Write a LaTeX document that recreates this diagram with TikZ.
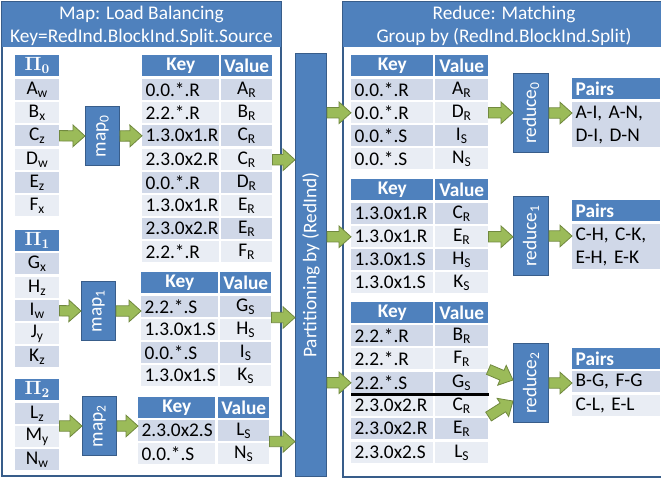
\documentclass[tikz,border=0pt]{standalone}
\usepackage[no-math]{fontspec}
\setmainfont{Carlito}
\usepackage{amsmath}
\usepackage{tikz}
\usetikzlibrary{calc}

\definecolor{hblue}{HTML}{4F81BD}
\definecolor{bdr}{HTML}{385D8A}
\definecolor{rowdk}{HTML}{D0D8E8}
\definecolor{rowlt}{HTML}{E9EDF4}
\definecolor{agreen}{HTML}{9BBB59}
\definecolor{agreendk}{HTML}{71893F}

% fat green block arrow from #1 to #2
\newcommand{\fatarrow}[2]{%
\coordinate (fa-s) at (#1);
\coordinate (fa-t) at (#2);
\coordinate (fa-h) at ($(fa-t)!9pt!(fa-s)$);
\filldraw [fill=agreen,draw=agreendk,line width=0.6pt,line join=miter] ($(fa-s)!3.9pt!90:(fa-t)$) -- ($(fa-h)!3.9pt!90:(fa-t)$) -- ($(fa-h)!8.1pt!90:(fa-t)$) -- (fa-t) -- ($(fa-h)!8.1pt!-90:(fa-t)$) -- ($(fa-h)!3.9pt!-90:(fa-t)$) -- ($(fa-s)!3.9pt!-90:(fa-t)$) -- cycle ;}

\begin{document}
\begin{tikzpicture}[x=0.75pt,y=0.75pt,yscale=-1,xscale=1,
  font=\fontsize{14.5}{17.3}\selectfont,
  cell/.style={anchor=north west,inner sep=0pt,minimum height=15.75pt},
  dk/.style={cell,fill=rowdk},
  lt/.style={cell,fill=rowlt},
  hd/.style={cell,fill=hblue,text=white,font=\fontsize{14.5}{17.3}\selectfont\bfseries},
  lkey/.style={inner xsep=2.5pt,text width=52.75pt,align=left},
  rkey/.style={inner xsep=2.5pt,text width=56.5pt,align=left},
  lkh/.style={minimum width=57.75pt},
  rkh/.style={minimum width=61.5pt},
  lval/.style={minimum width=38.25pt},
  rval/.style={minimum width=39.75pt},
  pcol/.style={minimum width=33pt},
  pcell/.style={inner xsep=2.5pt,text width=61pt,align=left},
  box/.style={anchor=north west,fill=hblue,draw=bdr,line width=0.75pt,inner sep=0pt,text=white},
  panel/.style={draw=bdr,line width=1.2pt,fill=white},
  sepline/.style={line width=1.9pt,black}]
\useasboundingbox (0,0) rectangle (661,480);

%Panels
\draw [panel] (2,2) rectangle (281,476) ;
\fill [hblue] (2,2) rectangle (281,47) ;
\draw [panel] (343,2) rectangle (664,477) ;
\fill [hblue] (343,2) rectangle (664,47) ;
\node [text=white,align=center,inner sep=0pt] (maphead) at (141.5,25.5) {Map: Load Balancing\\Key=RedInd.BlockInd.Split.Source};
\node [text=white,align=center,inner sep=0pt] (redhead) at (504,25.5) {Reduce: Matching\\Group by (RedInd.BlockInd.Split)};

%Input splits
\node [hd,pcol] (p0h) at (15,55) {$\mathbf{\Pi}_{\mathbf{0}}$};
\node [dk,pcol] (p0r1) at (15,79) {A\textsubscript{w}};
\node [lt,pcol] (p0r2) at (15,102) {B\textsubscript{x}};
\node [dk,pcol] (p0r3) at (15,125) {C\textsubscript{z}};
\node [lt,pcol] (p0r4) at (15,149) {D\textsubscript{w}};
\node [dk,pcol] (p0r5) at (15,172) {E\textsubscript{z}};
\node [lt,pcol] (p0r6) at (15,195) {F\textsubscript{x}};
\node [hd,pcol] (p1h) at (15,230) {$\mathbf{\Pi}_{\mathbf{1}}$};
\node [dk,pcol] (p1r1) at (15,253) {G\textsubscript{x}};
\node [lt,pcol] (p1r2) at (15,277) {H\textsubscript{z}};
\node [dk,pcol] (p1r3) at (15,300) {I\textsubscript{w}};
\node [lt,pcol] (p1r4) at (15,323) {J\textsubscript{y}};
\node [dk,pcol] (p1r5) at (15,346) {K\textsubscript{z}};
\node [hd,pcol] (p2h) at (15,379) {$\mathbf{\Pi}_{\mathbf{2}}$};
\node [dk,pcol] (p2r1) at (15,403) {L\textsubscript{z}};
\node [lt,pcol] (p2r2) at (15,426) {M\textsubscript{y}};
\node [dk,pcol] (p2r3) at (15,449) {N\textsubscript{w}};

%Mappers
\node [box,minimum width=25.5pt,minimum height=44.25pt] (map0) at (85,106) {\rotatebox{90}{map\textsubscript{0}}};
\node [box,minimum width=25.5pt,minimum height=44.25pt] (map1) at (81,281) {\rotatebox{90}{map\textsubscript{1}}};
\node [box,minimum width=25.5pt,minimum height=44.25pt] (map2) at (82,396) {\rotatebox{90}{map\textsubscript{2}}};

%Map output 0
\node [hd,lkh] (k0h) at (142,55) {Key};
\node [hd,lval] (v0h) at (221,55) {Value};
\node [dk,lkey] (k0r1) at (142,79) {0.0.*.R};
\node [dk,lval] (v0r1) at (221,79) {A\textsubscript{R}};
\node [lt,lkey] (k0r2) at (142,102) {2.2.*.R};
\node [lt,lval] (v0r2) at (221,102) {B\textsubscript{R}};
\node [dk,lkey] (k0r3) at (142,125) {1.3.0x1.R};
\node [dk,lval] (v0r3) at (221,125) {C\textsubscript{R}};
\node [lt,lkey] (k0r4) at (142,149) {2.3.0x2.R};
\node [lt,lval] (v0r4) at (221,149) {C\textsubscript{R}};
\node [dk,lkey] (k0r5) at (142,172) {0.0.*.R};
\node [dk,lval] (v0r5) at (221,172) {D\textsubscript{R}};
\node [lt,lkey] (k0r6) at (142,195) {1.3.0x1.R};
\node [lt,lval] (v0r6) at (221,195) {E\textsubscript{R}};
\node [dk,lkey] (k0r7) at (142,218) {2.3.0x2.R};
\node [dk,lval] (v0r7) at (221,218) {E\textsubscript{R}};
\node [lt,lkey] (k0r8) at (142,241) {2.2.*.R};
\node [lt,lval] (v0r8) at (221,241) {F\textsubscript{R}};

%Map output 1
\node [hd,lkh] (k1h) at (141,272) {Key};
\node [hd,lval] (v1h) at (220,272) {Value};
\node [dk,lkey] (k1r1) at (141,296) {2.2.*.S};
\node [dk,lval] (v1r1) at (220,296) {G\textsubscript{S}};
\node [lt,lkey] (k1r2) at (141,319) {1.3.0x1.S};
\node [lt,lval] (v1r2) at (220,319) {H\textsubscript{S}};
\node [dk,lkey] (k1r3) at (141,342) {0.0.*.S};
\node [dk,lval] (v1r3) at (220,342) {I\textsubscript{S}};
\node [lt,lkey] (k1r4) at (141,365) {1.3.0x1.S};
\node [lt,lval] (v1r4) at (220,365) {K\textsubscript{S}};

%Map output 2
\node [hd,lkh] (k2h) at (138,397) {Key};
\node [hd,lval] (v2h) at (218,397) {Value};
\node [dk,lkey] (k2r1) at (138,420) {2.3.0x2.S};
\node [dk,lval] (v2r1) at (218,420) {L\textsubscript{S}};
\node [lt,lkey] (k2r2) at (138,443) {0.0.*.S};
\node [lt,lval] (v2r2) at (218,443) {N\textsubscript{S}};

%Partitioning bar
\node [box,minimum width=23.25pt,minimum height=317.25pt] (part) at (295,53) {\rotatebox{90}{Partitioning by (RedInd)}};

%Reduce input 0
\node [hd,rkh] (rk0h) at (351,55) {Key};
\node [hd,rval] (rv0h) at (435,55) {Value};
\node [dk,rkey] (rk0r1) at (351,79) {0.0.*.R};
\node [dk,rval] (rv0r1) at (435,79) {A\textsubscript{R}};
\node [lt,rkey] (rk0r2) at (351,102) {0.0.*.R};
\node [lt,rval] (rv0r2) at (435,102) {D\textsubscript{R}};
\node [dk,rkey] (rk0r3) at (351,125) {0.0.*.S};
\node [dk,rval] (rv0r3) at (435,125) {I\textsubscript{S}};
\node [lt,rkey] (rk0r4) at (351,148) {0.0.*.S};
\node [lt,rval] (rv0r4) at (435,148) {N\textsubscript{S}};

%Reduce input 1
\node [hd,rkh] (rk1h) at (351,179) {Key};
\node [hd,rval] (rv1h) at (435,179) {Value};
\node [dk,rkey] (rk1r1) at (351,203) {1.3.0x1.R};
\node [dk,rval] (rv1r1) at (435,203) {C\textsubscript{R}};
\node [lt,rkey] (rk1r2) at (351,226) {1.3.0x1.R};
\node [lt,rval] (rv1r2) at (435,226) {E\textsubscript{R}};
\node [dk,rkey] (rk1r3) at (351,249) {1.3.0x1.S};
\node [dk,rval] (rv1r3) at (435,249) {H\textsubscript{S}};
\node [lt,rkey] (rk1r4) at (351,272) {1.3.0x1.S};
\node [lt,rval] (rv1r4) at (435,272) {K\textsubscript{S}};

%Reduce input 2
\node [hd,rkh] (rk2h) at (351,302) {Key};
\node [hd,rval] (rv2h) at (435,302) {Value};
\node [dk,rkey] (rk2r1) at (351,325) {2.2.*.R};
\node [dk,rval] (rv2r1) at (435,325) {B\textsubscript{R}};
\node [lt,rkey] (rk2r2) at (351,348) {2.2.*.R};
\node [lt,rval] (rv2r2) at (435,348) {F\textsubscript{R}};
\node [dk,rkey] (rk2r3) at (351,372) {2.2.*.S};
\node [dk,rval] (rv2r3) at (435,372) {G\textsubscript{S}};
\node [lt,rkey] (rk2r4) at (351,395) {2.3.0x2.R};
\node [lt,rval] (rv2r4) at (435,395) {C\textsubscript{R}};
\node [dk,rkey] (rk2r5) at (351,418) {2.3.0x2.R};
\node [dk,rval] (rv2r5) at (435,418) {E\textsubscript{R}};
\node [lt,rkey] (rk2r6) at (351,442) {2.3.0x2.S};
\node [lt,rval] (rv2r6) at (435,442) {L\textsubscript{S}};
\draw [sepline] ($(rk2r3.south west)+(0,1)$) -- ($(rv2r3.south east)+(0,1)$) ;

%Reducers
\node [box,minimum width=26.25pt,minimum height=59.25pt] (red0) at (513,73) {\rotatebox{90}{reduce\textsubscript{0}}};
\node [box,minimum width=26.25pt,minimum height=59.25pt] (red1) at (513,196) {\rotatebox{90}{reduce\textsubscript{1}}};
\node [box,minimum width=26.25pt,minimum height=59.25pt] (red2) at (513,343) {\rotatebox{90}{reduce\textsubscript{2}}};

%Pairs
\node [hd,pcell] (pr0h) at (572,78) {Pairs};
\node [dk,pcell,minimum height=33.75pt] (pr0r1) at (572,102) {A-I, A-N,\\D-I, D-N};
\node [hd,pcell] (pr1h) at (572,200) {Pairs};
\node [dk,pcell,minimum height=33.75pt] (pr1r1) at (572,224) {C-H, C-K,\\E-H, E-K};
\node [hd,pcell] (pr2h) at (572,348) {Pairs};
\node [dk,pcell] (pr2r1) at (572,371) {B-G, F-G};
\node [lt,pcell] (pr2r2) at (572,395) {C-L, E-L};

%Arrows
\fatarrow{p0r3.east}{map0.west}
\fatarrow{map0.east}{k0r3.west}
\fatarrow{v0r4.east}{v0r4.east -| part.west}
\fatarrow{p1r3.east}{map1.west}
\fatarrow{map1.east}{map1.east -| k1r1.west}
\fatarrow{v1r1.south east}{v1r1.south east -| part.west}
\fatarrow{map2.west -| p2r1.east}{map2.west}
\fatarrow{map2.east}{map2.east -| k2r1.west}
\fatarrow{v2r1.south east}{v2r1.south east -| part.west}
\fatarrow{rk0r2.west -| part.east}{rk0r2.west}
\fatarrow{rv0r2.east}{rv0r2.east -| red0.west}
\fatarrow{red0.east}{red0.east -| pr0r1.west}
\fatarrow{rk1r2.west -| part.east}{rk1r2.west}
\fatarrow{rv1r2.east}{rv1r2.east -| red1.west}
\fatarrow{red1.east}{red1.east -| pr1r1.west}
\fatarrow{rk2r3.west -| part.east}{rk2r3.west}
\fatarrow{rv2r2.south east}{$(red2.west)+(0,-3)$}
\fatarrow{rv2r4.south east}{$(red2.west)+(0,18)$}
\fatarrow{red2.east}{red2.east -| pr2r1.west}

\end{tikzpicture}
\end{document}
